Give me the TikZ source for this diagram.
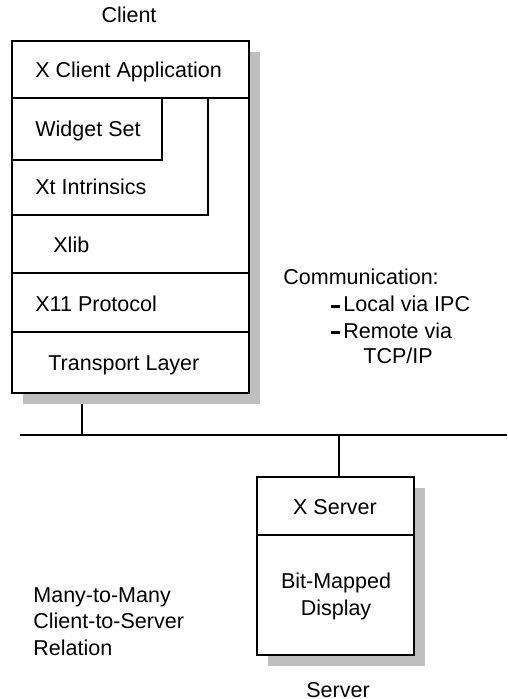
\documentclass[tikz,border=0pt]{standalone}
\usepackage{fontspec}
\setmainfont{Liberation Sans}
\tikzset{
  shadowbox/.style={fill=black!25},
  framebox/.style={draw, line width=1pt, fill=white},
  wire/.style={line width=1pt},
  txt/.style={inner sep=0pt, anchor=base west},
  ctxt/.style={inner sep=0pt, anchor=base},
}
\newcommand{\itemdash}{\rule[2.2pt]{4.5pt}{1.25pt}}
\begin{document}
\begin{tikzpicture}[x=0.5pt,y=-0.5pt,font=\fontsize{10.75}{13.25}\selectfont]
\useasboundingbox (0,0) rectangle (507,699);
% client stack
\fill[shadowbox] (23,52) rectangle (260,404);
\draw[framebox] (12,41) rectangle (249,393);
\draw[wire] (12,98) -- (249,98);
\draw[wire] (12,160) -- (162,160) -- (162,98);
\draw[wire] (12,215) -- (208,215) -- (208,98);
\draw[wire] (12,273) -- (249,273);
\draw[wire] (12,332) -- (249,332);
\node[ctxt] (client) at (129,23) {Client};
\node[txt] (xapp) at (35,78) {X Client Application};
\node[txt] (widget) at (35,137) {Widget Set};
\node[txt] (xt) at (35,195) {Xt Intrinsics};
\node[txt] (xlib) at (53,253) {Xlib};
\node[txt] (proto) at (35,312) {X11 Protocol};
\node[txt] (transport) at (48,370) {Transport Layer};
% network
\coordinate (cstub) at (82,404);
\coordinate (cbus) at (82,435);
\coordinate (busL) at (20,435);
\coordinate (busR) at (507,435);
\coordinate (sbus) at (339,435);
\coordinate (sstub) at (339,477);
\draw[wire] (busL) -- (busR);
\draw[wire] (cstub) -- (cbus);
\draw[wire] (sbus) -- (sstub);
% server
\fill[shadowbox] (268,488) rectangle (425,666);
\draw[framebox] (257,477) rectangle (414,655);
\draw[wire] (257,535) -- (414,535);
\node[ctxt] (xsrv) at (335,514) {X Server};
\node[ctxt, align=center] (bitmap) at (336,615) {Bit-Mapped\\Display};
\node[ctxt] (server) at (338,697) {Server};
% notes
\node[txt] (comm) at (283,285) {Communication:};
\node[txt] (dash1) at (331,312) {\itemdash};
\node[txt] (local) at (343,312) {Local via IPC};
\node[txt] (dash2) at (331,338) {\itemdash};
\node[txt] (remote) at (343,338) {Remote via};
\node[txt] (tcp) at (363,363) {TCP/IP};
\node[txt, align=left] (relation) at (33,655) {Many-to-Many\\Client-to-Server\\Relation};
\end{tikzpicture}
\end{document}
